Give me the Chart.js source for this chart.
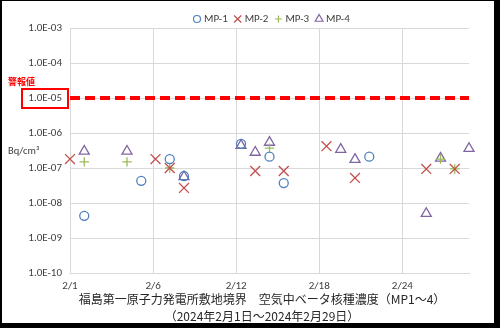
<!DOCTYPE html>
<html lang="ja">
<head>
<meta charset="utf-8">
<title>空気中ベータ核種濃度</title>
<script src="https://cdn.jsdelivr.net/npm/chart.js@4.4.1/dist/chart.umd.min.js"></script>
<style>
  html, body { margin: 0; padding: 0; }
  body { width: 500px; height: 328px; background: #000; overflow: hidden; position: relative; }
  #frame { position: absolute; left: 2px; top: 1px; width: 492px; height: 322px; background: #fff; }
  #betaChart { display: block; width: 492px; height: 322px; }
</style>
</head>
<body>
<div id="frame"><canvas id="betaChart" width="492" height="322"></canvas></div>
<script>
// 測定日（2月の日付）と濃度 [Bq/cm3]
const mp1Days = [2, 6, 8, 9, 13, 15, 16, 22];
const mp1Values = [4.3e-9, 4.3e-8, 1.8e-7, 5.9e-8, 4.9e-7, 2.1e-7, 3.7e-8, 2.1e-7];

const mp2Days = [1, 7, 8, 9, 14, 16, 19, 21, 26, 28];
const mp2Values = [1.8e-7, 1.8e-7, 1.0e-7, 2.7e-8, 8.2e-8, 8.2e-8, 4.2e-7, 5.2e-8, 9.4e-8, 9.4e-8];

const mp3Days = [2, 5, 8, 15, 27, 28];
const mp3Values = [1.5e-7, 1.5e-7, 1.0e-7, 3.7e-7, 1.8e-7, 9.4e-8];

const mp4Days = [2, 5, 9, 13, 14, 15, 20, 21, 26, 27, 29];
const mp4Values = [3.0e-7, 3.0e-7, 5.6e-8, 4.4e-7, 2.8e-7, 5.4e-7, 3.4e-7, 1.75e-7, 5.0e-9, 1.9e-7, 3.6e-7];

// 警報値
const alertLevel = 1.0e-5;
const alertDays = [1, 29];

const xTickLabels = ['2/1', '2/6', '2/12', '2/18', '2/24'];
const yTickValues = [1e-10, 1e-9, 1e-8, 1e-7, 1e-6, 1e-5, 1e-4, 1e-3];

const chartTitle = ['福島第一原子力発電所敷地境界　空気中ベータ核種濃度（MP1～4）',
                    '（2024年2月1日～2024年2月29日）'];

const latinFont = 'Carlito, Roboto, "Noto Sans", sans-serif';
const cjkFont = '"Noto Sans CJK JP", sans-serif';
const textColor = '#404040';
const gridColor = '#D9D9D9';

function toPoints(days, values) {
    return days.map((d, i) => ({ x: d, y: values[i] }));
}

// 1.0E-05 形式
function sciLabel(v) {
    const e = Math.round(Math.log10(v));
    const m = v / Math.pow(10, e);
    return m.toFixed(1) + 'E' + (e < 0 ? '-' : '+') + String(Math.abs(e)).padStart(2, '0');
}

const markerSeries = [
    { label: 'MP-1', data: toPoints(mp1Days, mp1Values), pointStyle: 'circle', pointRadius: 4.5,
      borderColor: '#4F81BD', legendRadius: 3.5 },
    { label: 'MP-2', data: toPoints(mp2Days, mp2Values), pointStyle: 'crossRot', pointRadius: 7,
      borderColor: '#C0504D', legendRadius: 5 },
    { label: 'MP-3', data: toPoints(mp3Days, mp3Values), pointStyle: 'cross', pointRadius: 4.7,
      borderColor: '#9BBB59', legendRadius: 3.5 },
    { label: 'MP-4', data: toPoints(mp4Days, mp4Values), pointStyle: 'triangle', pointRadius: 5.8,
      borderColor: '#8064A2', legendRadius: 4.5 }
].map(s => Object.assign(s, {
    backgroundColor: 'rgba(0,0,0,0)',
    pointBorderWidth: 1.3,
    pointHoverRadius: s.pointRadius,
    showLine: false,
    clip: false
}));

const alertLine = {
    type: 'line',
    label: '警報値',
    data: alertDays.map(d => ({ x: d, y: alertLevel })),
    borderColor: '#FF0000',
    borderWidth: 4,
    borderDash: [10, 5],
    pointRadius: 0,
    fill: false,
    clip: false
};

// 凡例・単位・警報値の枠・タイトル
const textPlugin = {
    id: 'textPlugin',
    afterDraw(chart) {
        const ctx = chart.ctx;
        ctx.save();

        // 凡例
        ctx.font = '11px ' + latinFont;
        ctx.textBaseline = 'middle';
        ctx.textAlign = 'left';
        let x = 195;
        const ly = 18;
        markerSeries.forEach(s => {
            ctx.strokeStyle = s.borderColor;
            ctx.fillStyle = 'rgba(0,0,0,0)';
            ctx.lineWidth = 1.2;
            Chart.helpers.drawPoint(ctx, { pointStyle: s.pointStyle, radius: s.legendRadius, rotation: 0, borderWidth: 1.2 }, x, ly);
            ctx.fillStyle = textColor;
            ctx.fillText(s.label, x + 7, ly);
            x += 7 + ctx.measureText(s.label).width + 10;
        });

        // 警報値ラベルと枠
        ctx.fillStyle = '#FF0000';
        ctx.font = 'bold 9px ' + cjkFont;
        ctx.fillText('警報値', 6, 80.5);
        ctx.strokeStyle = '#FF0000';
        ctx.lineWidth = 2;
        ctx.strokeRect(20, 88, 46, 19);

        // 単位
        ctx.fillStyle = textColor;
        ctx.font = '10.5px ' + latinFont;
        ctx.fillText('Bq/cm³', 6, 150.5);

        // タイトル
        ctx.fillStyle = '#262626';
        ctx.font = '12px ' + cjkFont;
        ctx.textAlign = 'center';
        ctx.fillText(chartTitle[0], 260, 298);
        ctx.fillText(chartTitle[1], 260, 315);

        ctx.restore();
    }
};

const betaChart = new Chart(document.getElementById('betaChart'), {
    type: 'scatter',
    data: { datasets: [...markerSeries, alertLine] },
    options: {
        responsive: false,
        animation: false,
        layout: { padding: { top: 27, right: 25, bottom: 30, left: 0 } },
        plugins: {
            legend: { display: false },
            title: { display: false },
            tooltip: { enabled: false }
        },
        scales: {
            x: {
                type: 'linear',
                min: 1,
                max: 29,
                afterBuildTicks: scale => {
                    scale.ticks = xTickLabels.map((_, i) => ({ value: 1 + i * 5.83 }));
                },
                afterFit: scale => { scale.height = 20; },
                ticks: {
                    autoSkip: false,
                    maxRotation: 0,
                    padding: 7,
                    color: textColor,
                    font: { family: latinFont, size: 11 },
                    callback: (value, index) => xTickLabels[index]
                },
                grid: { color: gridColor, drawTicks: false },
                border: { color: gridColor }
            },
            y: {
                type: 'logarithmic',
                min: 1e-10,
                max: 1e-3,
                afterBuildTicks: scale => {
                    scale.ticks = yTickValues.map(v => ({ value: v, major: true }));
                },
                afterFit: scale => { scale.width = 68; },
                ticks: {
                    padding: 8,
                    color: textColor,
                    font: { family: latinFont, size: 11 },
                    callback: value => sciLabel(value)
                },
                grid: { color: gridColor, drawTicks: false },
                border: { color: gridColor }
            }
        }
    },
    plugins: [textPlugin]
});
</script>
</body>
</html>
